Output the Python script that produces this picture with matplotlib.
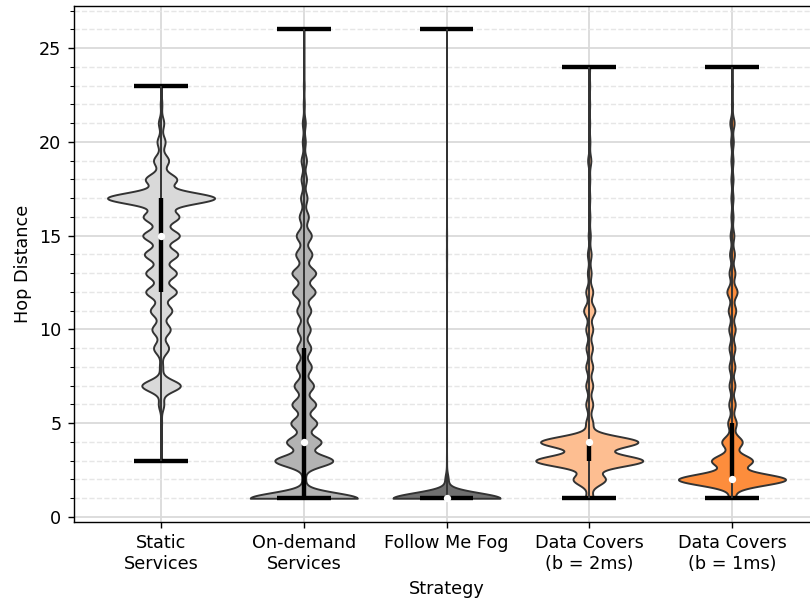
import numpy as np
import matplotlib.pyplot as plt
from matplotlib.ticker import MultipleLocator

plt.rcParams['font.family'] = 'DejaVu Sans'

strategies = ['Static\nServices', 'On-demand\nServices', 'Follow Me Fog',
              'Data Covers\n(b = 2ms)', 'Data Covers\n(b = 1ms)']
colors = ['#d9d9d9', '#b3b3b3', '#707070', '#fdbe91', '#fd8d3c']

# hop distances 1..26 and how often each occurs per strategy
hops = np.arange(1, 27)
static_counts = [0, 0, 10, 10, 10, 50, 360, 30, 140, 170, 200, 285, 285, 310, 340, 330,
                 1000, 290, 140, 75, 50, 15, 8, 0, 0, 0]
ondemand_counts = [1000, 30, 540, 320, 240, 220, 180, 140, 130, 120, 130, 210, 220, 150, 140,
                   85, 60, 50, 50, 28, 28, 10, 8, 5, 5, 4]
fmf_counts = [5000, 150, 10, 6, 4, 3, 3, 3, 3, 3, 3, 4, 12, 15, 12, 3, 2, 2, 2, 1, 1, 1,
              1, 1, 1, 1]
dc2_counts = [70, 300, 1000, 910, 65, 65, 65, 65, 60, 65, 105, 65, 35, 35, 20, 12, 10, 10, 30,
              12, 8, 8, 8, 8, 0, 0]
dc1_counts = [60, 1000, 380, 190, 80, 60, 55, 55, 55, 60, 70, 95, 55, 45, 35, 20, 20, 20,
              20, 25, 40, 10, 10, 8, 0, 0]

# quartiles and medians as drawn in the inner boxes
q1_vals = [12, 1, 1, 3, 2]
median_vals = [15, 4, 1, 4, 2]
q3_vals = [17, 9, 1, 4, 5]

all_counts = [static_counts, ondemand_counts, fmf_counts, dc2_counts, dc1_counts]
data = [np.repeat(hops, c) for c in all_counts]
positions = np.arange(1, len(data) + 1)

bw = 0.3  # kernel width in hops

fig = plt.figure(figsize=(810 / 126.5, 606 / 126.5), dpi=126.5)
ax = fig.add_axes([0.0909, 0.1391, 0.9207, 0.8513])

parts = ax.violinplot(data, positions=positions, widths=0.75, points=1000,
                      bw_method=lambda kde: bw / kde.dataset.std(ddof=1),
                      showextrema=True)
for pc, c in zip(parts['bodies'], colors):
    pc.set_facecolor(c)
    pc.set_edgecolor('#333333')
    pc.set_linewidth(1.1)
    pc.set_alpha(1)
parts['cbars'].set_color('#333333')
parts['cbars'].set_linewidth(1.1)
for key in ['cmins', 'cmaxes']:
    parts[key].set_color('black')
    parts[key].set_linewidth(2.5)

# inner box: quartile bar + median dot
ax.vlines(positions, q1_vals, q3_vals, color='black', lw=2.5, zorder=3)
ax.scatter(positions, median_vals, color='white', s=10, zorder=4)

ax.yaxis.set_major_locator(MultipleLocator(5))
ax.yaxis.set_minor_locator(MultipleLocator(1))
ax.grid(axis='y', which='major', color='#d9d9d9', lw=1)
ax.grid(axis='y', which='minor', color='#e6e6e6', ls='--', lw=0.8)
ax.grid(axis='x', which='major', color='#d9d9d9', lw=1)
ax.set_axisbelow(True)

ax.set_xticks(positions)
ax.set_xticklabels(strategies)
ax.set_xlabel('Strategy')
ax.set_ylabel('Hop Distance')

fig.savefig('out.png', dpi=126.5)
